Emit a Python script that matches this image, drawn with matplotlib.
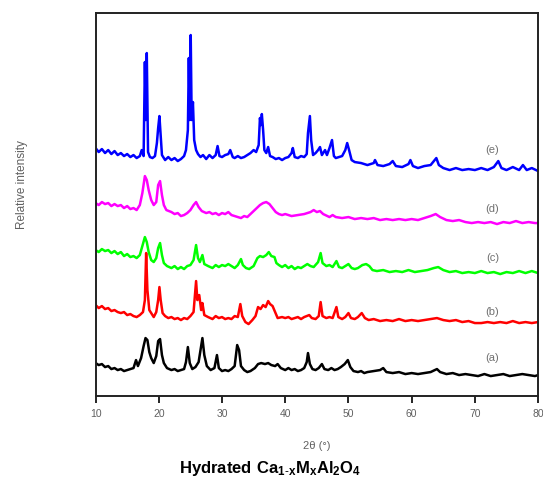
import numpy as np
import matplotlib
matplotlib.use("Agg")
import matplotlib.pyplot as plt

plt.rcParams['font.family'] = ['Liberation Sans', 'DejaVu Sans']
plt.rcParams['mathtext.fontset'] = 'custom'
plt.rcParams['mathtext.rm'] = 'Liberation Sans'
plt.rcParams['mathtext.bf'] = 'Liberation Sans:bold'

# XRD patterns (2theta in degrees, intensity in a.u.)
tt_e = [10.0, 10.5, 11.0, 11.5, 12.0, 12.5, 13.0, 13.5, 14.0, 14.5, 15.0, 15.5, 16.0, 16.5, 17.0, 17.3, 17.6,
        17.8, 17.95, 18.1, 18.3, 18.6, 19.0, 19.4, 19.7, 19.9, 20.1, 20.3, 20.5, 21.0, 21.5, 22.0, 22.5, 23.0,
        23.5, 24.0, 24.3, 24.6, 24.75, 24.9, 25.05, 25.2, 25.4, 25.6, 25.9, 26.2, 26.6, 27.0, 27.5, 28.0, 28.5,
        29.0, 29.3, 29.6, 30.0, 30.5, 31.0, 31.3, 31.7, 32.0, 32.5, 33.0, 33.5, 34.0, 34.5, 35.0, 35.4, 35.8,
        36.0, 36.15, 36.3, 36.5, 36.7, 37.0, 37.3, 37.6, 38.0, 38.5, 39.0, 39.5, 40.0, 40.5, 41.0, 41.2, 41.5,
        42.0, 42.5, 43.0, 43.4, 43.6, 43.9, 44.1, 44.4, 44.8, 45.2, 45.5, 45.8, 46.3, 46.6, 47.0, 47.4, 47.7,
        48.0, 48.5, 49.0, 49.5, 49.8, 50.1, 50.5, 51.0, 52.0, 53.0, 54.0, 54.2, 54.6, 55.5, 56.5, 57.0, 57.5,
        58.5, 59.5, 59.8, 60.2, 61.0, 62.0, 63.0, 63.9, 64.3, 65.0, 66.0, 67.0, 68.0, 69.0, 70.0, 71.0, 72.0,
        73.0, 73.7, 74.2, 75.0, 76.0, 77.0, 77.6, 78.2, 79.0, 80.0]
int_e = [22, 18, 21, 17, 20, 16, 19, 15, 17, 14, 16, 13, 15, 12, 14, 20, 14,
         108, 50, 117, 18, 13, 12, 14, 27, 42, 54, 35, 15, 10, 13, 10, 12, 9,
         11, 14, 20, 40, 112, 50, 135, 50, 68, 30, 20, 16, 13, 15, 11, 15, 12,
         15, 24, 14, 13, 15, 16, 20, 13, 12, 14, 12, 13, 15, 17, 20, 18, 25,
         52, 45, 56, 40, 20, 17, 23, 14, 13, 11, 12, 10, 12, 13, 17, 22, 13,
         12, 14, 13, 16, 37, 54, 30, 15, 17, 20, 23, 15, 20, 15, 22, 30, 14,
         12, 13, 14, 20, 27, 20, 10, 8, 7, 5, 7, 10, 5, 4, 6, 9, 4,
         3, 6, 10, 4, 2, 4, 5, 12, 5, 2, 0, 2, 0, 1, 0, 2, 0,
         3, 9, 2, 0, 3, 0, 5, 0, 2, -1]

tt_d = [10.0, 10.5, 11.0, 11.5, 12.0, 12.5, 13.0, 13.5, 14.0, 14.5, 15.0, 15.5, 16.0, 16.5, 17.0, 17.4, 17.8,
        18.1, 18.4, 18.8, 19.2, 19.6, 19.9, 20.2, 20.5, 20.8, 21.2, 22.0, 22.5, 23.0, 23.5, 24.0, 24.5, 25.0,
        25.5, 25.9, 26.3, 26.8, 27.5, 28.0, 28.5, 29.0, 29.5, 30.0, 30.5, 31.0, 31.5, 32.0, 32.5, 33.0, 33.5,
        34.0, 34.5, 35.0, 35.5, 36.0, 36.5, 37.0, 37.5, 38.0, 38.5, 39.0, 39.5, 40.0, 40.5, 41.0, 42.0, 43.0,
        44.0, 44.5, 45.0, 45.5, 46.0, 47.0, 47.5, 48.0, 49.0, 50.0, 51.0, 52.0, 53.0, 54.0, 55.0, 56.0, 57.0,
        58.0, 59.0, 60.0, 61.0, 62.0, 63.0, 63.8, 64.5, 65.5, 66.5, 67.5, 68.5, 69.5, 70.5, 71.5, 72.5, 73.5,
        74.5, 75.5, 76.5, 77.5, 78.5, 79.5, 80.0]
int_d = [20, 18, 21, 19, 20, 17, 19, 17, 18, 15, 17, 14, 15, 13, 18, 30, 47,
         43, 33, 23, 18, 21, 38, 42, 28, 18, 13, 11, 9, 10, 7, 8, 10, 13,
         18, 21, 16, 12, 10, 11, 9, 10, 8, 10, 9, 11, 8, 7, 6, 5, 7,
         6, 9, 12, 15, 18, 20, 21, 19, 15, 11, 9, 8, 9, 8, 7, 8, 9,
         11, 13, 11, 12, 9, 6, 8, 6, 5, 6, 4, 5, 4, 5, 3, 4, 3,
         4, 3, 4, 3, 5, 7, 9, 6, 3, 2, 3, 1, 0, 1, 0, 1, -1,
         1, 0, 2, 0, 1, 0, 0]

tt_c = [10.0, 10.5, 11.0, 11.5, 12.0, 12.5, 13.0, 13.5, 14.0, 14.5, 15.0, 15.5, 16.0, 16.5, 17.0, 17.4, 17.8,
        18.1, 18.4, 18.8, 19.2, 19.6, 19.9, 20.2, 20.5, 20.8, 21.3, 22.0, 22.5, 23.0, 23.5, 24.0, 24.5, 25.0,
        25.5, 25.9, 26.2, 26.5, 26.9, 27.2, 27.8, 28.5, 29.0, 29.5, 30.0, 30.5, 31.0, 31.5, 32.0, 32.5, 33.0,
        33.3, 33.8, 34.3, 35.0, 35.6, 36.0, 36.5, 37.0, 37.4, 37.8, 38.3, 38.6, 39.0, 39.5, 40.0, 40.5, 41.0,
        41.5, 42.0, 42.5, 43.0, 43.5, 44.0, 44.5, 45.2, 45.6, 45.9, 46.5, 47.0, 47.5, 48.1, 48.5, 49.0, 49.5,
        50.0, 50.5, 51.0, 51.5, 52.2, 52.8, 53.3, 53.8, 54.5, 55.5, 56.5, 57.5, 58.5, 59.5, 60.5, 61.5, 62.5,
        63.5, 64.2, 65.0, 66.0, 67.0, 68.0, 69.0, 70.0, 71.0, 72.0, 73.0, 74.0, 75.0, 76.0, 77.0, 78.0, 79.0,
        80.0]
int_c = [23, 21, 24, 22, 23, 20, 22, 19, 21, 17, 19, 16, 17, 15, 18, 27, 36,
         31, 21, 13, 11, 15, 25, 30, 18, 10, 7, 5, 7, 4, 6, 4, 7, 8,
         13, 28, 15, 11, 18, 9, 7, 5, 8, 6, 8, 7, 9, 7, 5, 8, 14,
         8, 5, 4, 7, 15, 17, 16, 18, 21, 17, 16, 10, 8, 6, 8, 5, 7,
         4, 6, 5, 7, 9, 7, 6, 11, 20, 10, 7, 8, 6, 12, 6, 5, 7,
         9, 5, 4, 5, 8, 9, 7, 3, 2, 3, 1, 2, 1, 3, 1, 2, 3,
         5, 6, 3, 1, 2, 0, 1, 0, 2, 0, 1, -1, 1, 0, 2, 0, 2,
         0]

tt_b = [10.0, 10.5, 11.0, 11.5, 12.0, 12.5, 13.0, 13.5, 14.0, 14.5, 15.0, 15.5, 16.0, 16.5, 17.0, 17.5, 17.8,
        18.0, 18.2, 18.5, 18.8, 19.2, 19.6, 19.9, 20.1, 20.3, 20.6, 21.0, 21.5, 22.0, 22.5, 23.0, 23.5, 24.0,
        24.5, 25.0, 25.5, 25.9, 26.1, 26.4, 26.7, 26.9, 27.2, 27.8, 28.5, 29.0, 29.5, 30.0, 30.5, 31.0, 31.5,
        32.0, 32.5, 32.9, 33.2, 33.7, 34.2, 34.8, 35.3, 35.7, 36.1, 36.5, 36.9, 37.3, 37.6, 38.0, 38.4, 38.8,
        39.5, 40.0, 40.5, 41.0, 41.5, 42.0, 42.5, 43.0, 43.8, 44.2, 44.8, 45.3, 45.6, 45.9, 46.5, 47.0, 47.5,
        48.1, 48.4, 49.0, 49.5, 50.0, 50.4, 51.0, 51.5, 52.1, 52.6, 53.2, 54.0, 55.0, 56.0, 57.0, 58.0, 59.0,
        60.0, 61.0, 62.0, 63.0, 64.0, 65.0, 66.0, 67.0, 68.0, 69.0, 70.0, 71.0, 72.0, 73.0, 74.0, 75.0, 76.0,
        77.0, 78.0, 79.0, 80.0]
int_b = [18, 15, 17, 14, 15, 12, 13, 11, 10, 11, 8, 9, 7, 6, 8, 11, 23,
         70, 33, 13, 10, 6, 11, 23, 36, 23, 10, 7, 5, 6, 4, 5, 3, 5,
         4, 7, 11, 42, 23, 28, 13, 20, 8, 6, 4, 7, 5, 6, 4, 5, 4,
         7, 6, 19, 7, 1, -1, 3, 7, 16, 14, 18, 16, 22, 19, 17, 11, 5,
         6, 5, 6, 4, 5, 6, 4, 6, 8, 5, 4, 7, 21, 7, 5, 6, 5,
         16, 6, 4, 6, 10, 5, 4, 6, 10, 5, 3, 4, 2, 3, 2, 4, 2,
         3, 2, 3, 4, 5, 3, 2, 3, 1, 2, 0, 0, 1, 0, 1, 0, 2,
         0, 1, 0, 1]

tt_a = [10.0, 10.5, 11.0, 11.5, 12.0, 12.5, 13.0, 13.5, 14.0, 14.5, 15.0, 15.5, 16.0, 16.4, 16.7, 17.2, 17.6,
        17.9, 18.2, 18.5, 18.8, 19.2, 19.6, 19.9, 20.2, 20.5, 20.8, 21.3, 22.0, 22.5, 23.0, 23.5, 24.0, 24.3,
        24.6, 24.9, 25.3, 25.8, 26.3, 26.6, 26.9, 27.2, 27.6, 28.2, 28.8, 29.2, 29.5, 30.0, 30.5, 31.0, 31.5,
        32.0, 32.4, 32.7, 33.0, 33.5, 34.0, 34.5, 35.2, 35.7, 36.2, 36.8, 37.3, 37.8, 38.4, 38.8, 39.3, 40.0,
        40.5, 41.0, 41.5, 42.0, 42.5, 43.0, 43.4, 43.6, 43.9, 44.3, 44.8, 45.3, 45.8, 46.2, 46.8, 47.3, 47.8,
        48.3, 48.8, 49.4, 49.9, 50.3, 50.8, 51.5, 52.0, 52.5, 53.0, 54.0, 55.0, 55.5, 56.0, 57.0, 58.0, 59.0,
        60.0, 61.0, 62.0, 63.0, 64.0, 64.5, 65.5, 66.5, 67.5, 68.5, 69.5, 70.5, 71.5, 72.5, 73.5, 74.5, 75.5,
        76.5, 77.5, 78.5, 79.5, 80.0]
int_a = [12, 10, 11, 8, 9, 6, 7, 5, 6, 4, 5, 6, 7, 15, 9, 17, 29,
         37, 35, 23, 17, 12, 19, 34, 36, 20, 12, 7, 5, 6, 4, 5, 6, 13,
         28, 12, 6, 8, 13, 25, 37, 20, 9, 5, 7, 20, 7, 4, 5, 4, 6,
         9, 30, 25, 9, 5, 3, 4, 7, 11, 12, 11, 12, 10, 9, 11, 7, 5,
         7, 5, 6, 4, 5, 7, 13, 22, 11, 6, 5, 7, 11, 6, 5, 7, 5,
         6, 8, 11, 15, 8, 4, 3, 4, 2, 3, 4, 5, 7, 3, 2, 3, 1,
         2, 1, 2, 3, 6, 3, 1, 2, 0, 1, 0, -1, 1, -1, 0, 1, -1,
         0, 1, 0, -1, 0]

labels = ['(a)', '(b)', '(c)', '(d)', '(e)']
colors = ['black', '#ff0000', '#00ff00', '#ff00ff', '#0000ff']
offsets = [21, 73, 123, 173, 226]

series = [(tt_a, int_a), (tt_b, int_b), (tt_c, int_c), (tt_d, int_d), (tt_e, int_e)]
label_y = [38, 84, 138, 187, 246]

fig = plt.figure(figsize=(5.43, 4.83), dpi=100)
ax = fig.add_axes([0.176, 0.180, 0.815, 0.793])

for (tt, inten), off, col in zip(series, offsets, colors):
    ax.plot(tt, np.array(inten) + off, color=col, lw=1.8)

for lab, ly in zip(labels, label_y):
    ax.text(72.8, ly, lab, fontsize=8, color='#707070', ha='center', va='center')

ax.set_xlim(10, 80)
ax.set_ylim(0, 383)
ax.set_xticks(range(10, 81, 10))
ax.set_yticks([])
ax.tick_params(axis='x', direction='out', length=5, width=1.2, labelsize=7.5,
               labelcolor='#606060', pad=4)
for sp in ax.spines.values():
    sp.set_linewidth(1.4)
    sp.set_color('#222222')

ax.set_xlabel('2\u03b8 (\u00b0)', fontsize=8, color='#606060', labelpad=16)
fig.text(22 / 543, 1 - 185 / 483, 'Relative intensity', rotation=90, fontsize=8.5,
         color='#606060', ha='center', va='center')
fig.text(270 / 543, 1 - 468 / 483,
         r'$\mathbf{Hydrated\ Ca_{1\text{-}x}M_{x}Al_{2}O_{4}}$',
         fontsize=12, ha='center', va='center')

fig.savefig('out.png', dpi=100)
